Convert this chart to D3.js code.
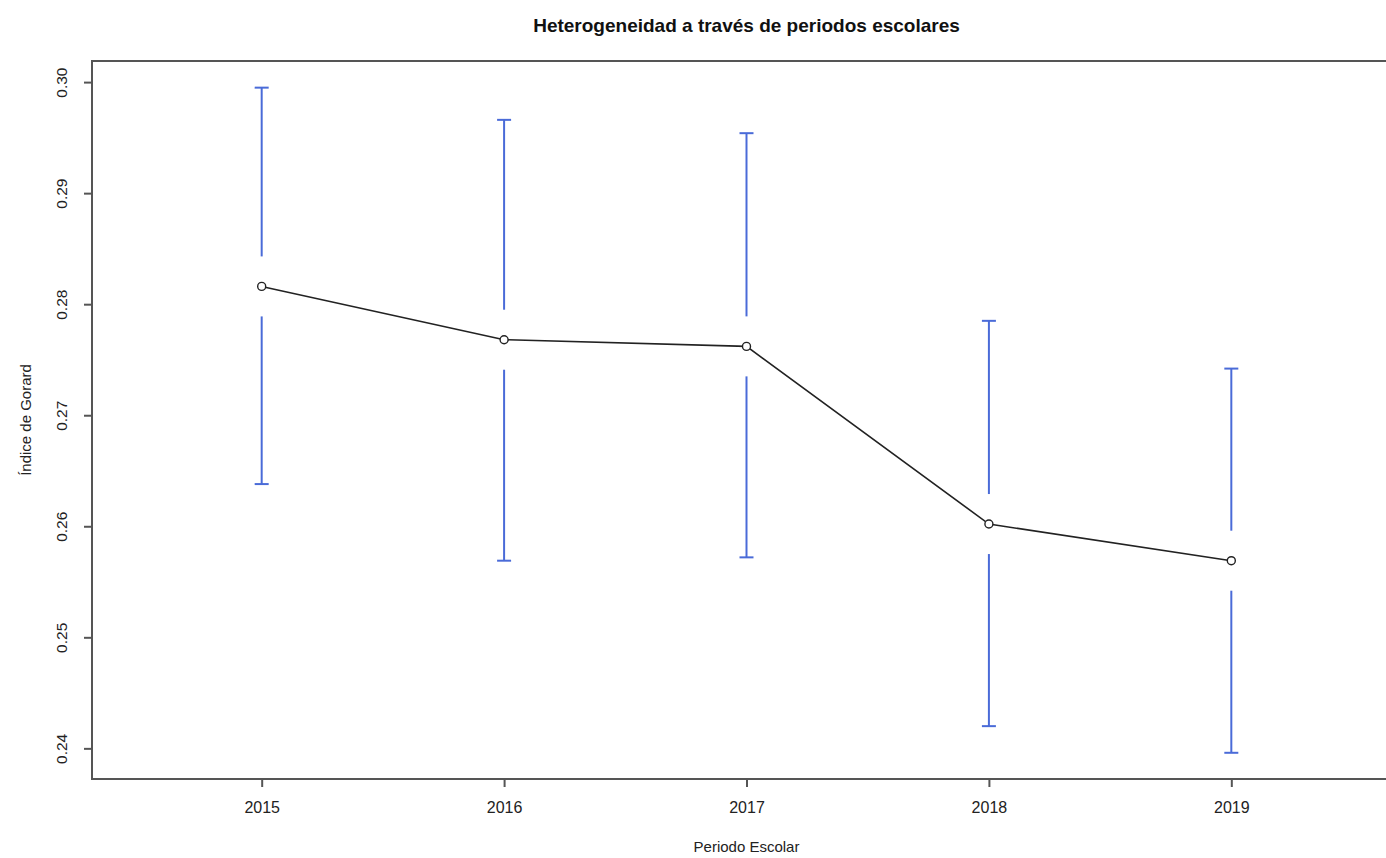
<!DOCTYPE html>
<html><head><meta charset="utf-8">
<script src="https://cdn.jsdelivr.net/npm/d3@7"></script>
<style>body{margin:0;background:#fff;} text{font-family:"Liberation Sans",Arial,sans-serif;fill:#222;}</style>
</head><body><svg id="c" width="1386" height="858"></svg>
<script>
const years = [2015, 2016, 2017, 2018, 2019];
const means = [0.2816, 0.2768, 0.2762, 0.2602, 0.2569];
const upper = [0.2995, 0.2966, 0.2954, 0.2785, 0.2742];
const lower = [0.2638, 0.2569, 0.2572, 0.2420, 0.2396];
const yTicks = [0.24, 0.25, 0.26, 0.27, 0.28, 0.29, 0.30];
const title = "Heterogeneidad a través de periodos escolares";
const xLabel = "Periodo Escolar";
const yLabel = "Índice de Gorard";

const svg = d3.select("#c");
const L = 92, R = 1401, T = 61, B = 779;
const x = d3.scaleLinear().domain([2014.3, 2019.7]).range([L, R]);
const y = d3.scaleLinear().domain([0.23724, 0.3019]).range([B, T]);
const gap = 30, capW = 14, blue = "#4a6bd8";

// box
svg.append("rect").attr("x", L).attr("y", T).attr("width", R - L).attr("height", B - T)
  .attr("fill", "none").attr("stroke", "#555").attr("stroke-width", 2);

// y axis
const ya = svg.append("g").attr("transform", `translate(${L},0)`)
  .call(d3.axisLeft(y).tickValues(yTicks).tickFormat(d3.format(".2f")).tickSize(8).tickSizeOuter(0));
ya.select(".domain").remove();
ya.selectAll(".tick line").attr("stroke", "#555").attr("stroke-width", 2);
ya.selectAll(".tick text").attr("x", 0).attr("dy", 0).attr("text-anchor", "middle")
  .attr("transform", "translate(-25,0) rotate(-90)").style("font-size", "15.5px").style("fill", "#222");

// x axis
const xa = svg.append("g").attr("transform", `translate(0,${B})`)
  .call(d3.axisBottom(x).tickValues(years).tickFormat(d3.format("d")).tickSize(8).tickSizeOuter(0));
xa.select(".domain").remove();
xa.selectAll(".tick line").attr("stroke", "#555").attr("stroke-width", 2);
xa.selectAll(".tick text").attr("y", 28).attr("dy", "0.35em").style("font-size", "16px").style("fill", "#222");

// error bars
const eb = svg.append("g").attr("stroke", blue).attr("stroke-width", 2);
years.forEach((yr, i) => {
  const cx = x(yr), cy = y(means[i]);
  eb.append("line").attr("x1", cx).attr("x2", cx).attr("y1", y(upper[i])).attr("y2", cy - gap);
  eb.append("line").attr("x1", cx).attr("x2", cx).attr("y1", cy + gap).attr("y2", y(lower[i]));
  eb.append("line").attr("x1", cx - capW / 2).attr("x2", cx + capW / 2).attr("y1", y(upper[i])).attr("y2", y(upper[i]));
  eb.append("line").attr("x1", cx - capW / 2).attr("x2", cx + capW / 2).attr("y1", y(lower[i])).attr("y2", y(lower[i]));
});

// line
svg.append("path").datum(years.map((yr, i) => [yr, means[i]]))
  .attr("d", d3.line().x(d => x(d[0])).y(d => y(d[1])))
  .attr("fill", "none").attr("stroke", "#222").attr("stroke-width", 1.6);
svg.append("g").selectAll("circle").data(years).join("circle")
  .attr("cx", d => x(d)).attr("cy", (d, i) => y(means[i])).attr("r", 4)
  .attr("fill", "#fff").attr("stroke", "#222").attr("stroke-width", 1.4);

// labels
svg.append("text").attr("x", (L + R) / 2).attr("y", 32).attr("text-anchor", "middle")
  .style("font-size", "19px").style("font-weight", "bold").style("fill", "#111").text(title);
svg.append("text").attr("x", (L + R) / 2).attr("y", 852).attr("text-anchor", "middle")
  .style("font-size", "15px").text(xLabel);
svg.append("text").attr("transform", `translate(31,${(T + B) / 2}) rotate(-90)`).attr("text-anchor", "middle")
  .style("font-size", "15px").text(yLabel);
</script></body></html>
